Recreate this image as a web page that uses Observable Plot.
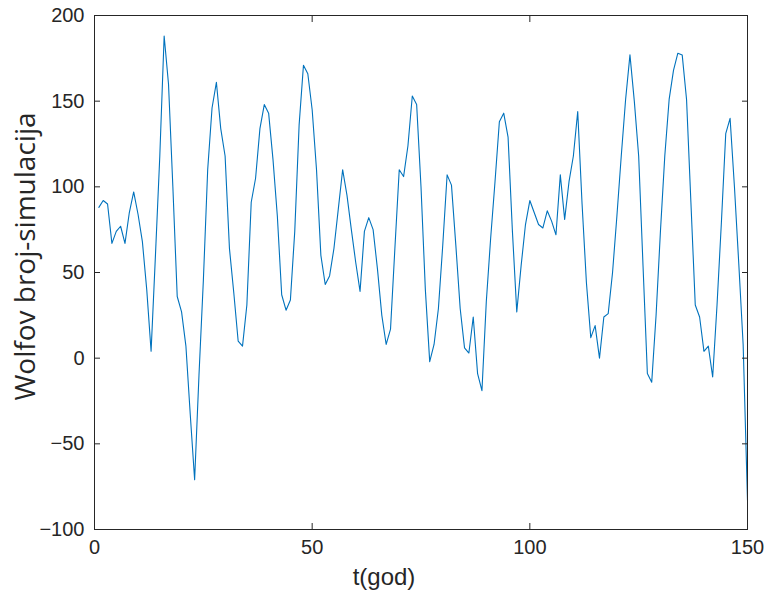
<!DOCTYPE html>
<html><head><meta charset="utf-8">
<script src="https://cdn.jsdelivr.net/npm/d3@7"></script>
<script src="https://cdn.jsdelivr.net/npm/@observablehq/plot@0.6"></script>
<style>body{margin:0;background:#fff}</style>
</head><body><div id="chart"></div>
<script>
// Wolf number simulation values for t = 1..150
const wolf = [
  88, 92, 90, 67, 74, 77, 67, 85, 97, 84,
  68, 40, 4, 60, 118, 188, 160, 100, 36, 27,
  7, -33, -71, -10, 45, 110, 146, 161, 134, 118,
  64, 38, 10, 7, 31, 91, 105, 134, 148, 143,
  116, 83, 37, 28, 34, 74, 136, 171, 166, 145,
  110, 60, 43, 48, 64, 87, 110, 95, 75, 56,
  39, 74, 82, 75, 52, 25, 8, 17, 64, 110,
  106, 124, 153, 148, 100, 40, -2, 8, 29, 66,
  107, 101, 66, 29, 6, 3, 24, -9, -19, 33,
  70, 103, 138, 143, 129, 74, 27, 54, 78, 92,
  85, 78, 76, 86, 80, 72, 107, 81, 103, 118,
  144, 90, 44, 12, 19, 0, 24, 26, 50, 83,
  118, 151, 177, 150, 118, 54, -9, -14, 25, 74,
  118, 151, 168, 178, 177, 151, 91, 31, 24, 4,
  7, -11, 31, 79, 131, 140, 100, 55, 8, -83
];
const xTicks = [0, 50, 100, 150];
const yTicks = [-100, -50, 0, 50, 100, 150, 200];
const xLabel = "t(god)";
const yLabel = "Wolfov broj-simulacija";

const data = wolf.map((v, i) => ({t: i + 1, v}));
const font = "'Liberation Sans', Arial, sans-serif";
const ink = "#262626";

const chart = Plot.plot({
  width: 766, height: 595,
  marginLeft: 94, marginRight: 19, marginTop: 15, marginBottom: 66,
  style: {fontFamily: font, fontSize: "20px", color: ink, background: "#fff"},
  x: {domain: [0, 150]},
  y: {domain: [-100, 200]},
  marks: [
    Plot.line(data, {x: "t", y: "v", stroke: "#0072BD", strokeWidth: 1.1}),
    Plot.frame({stroke: ink, strokeWidth: 1}),
    Plot.axisX(xTicks, {anchor: "bottom", tickSize: -6, tickPadding: 16, label: null, stroke: ink}),
    Plot.axisX(xTicks, {anchor: "top", tickSize: -6, tickFormat: () => "", label: null, stroke: ink}),
    Plot.axisY(yTicks, {anchor: "left", tickSize: -6, tickPadding: 16, label: null, stroke: ink}),
    Plot.axisY(yTicks, {anchor: "right", tickSize: -6, tickFormat: () => "", label: null, stroke: ink}),
    Plot.text([xLabel], {text: d => d, frameAnchor: "bottom", dx: -37, dy: 48, fontSize: 24, fill: ink, lineAnchor: "middle", textAnchor: "middle"}),
    Plot.text([yLabel], {text: d => d, frameAnchor: "left", rotate: -90, dx: -68, dy: -16, fontSize: 28, fontFamily: "'Open Sans', 'DejaVu Sans', sans-serif", fill: ink, lineAnchor: "middle", textAnchor: "middle"})
  ]
});
document.getElementById("chart").append(chart);
</script>
</body></html>
